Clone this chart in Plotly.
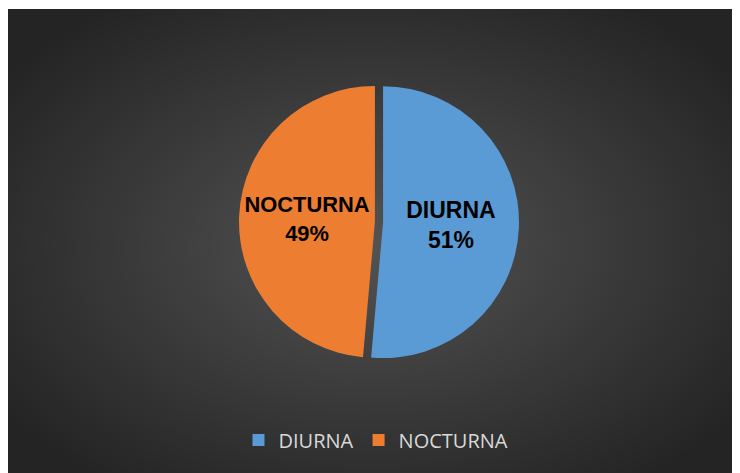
import base64
import plotly.graph_objects as go

labels = ["DIURNA", "NOCTURNA"]
values = [51.4, 48.6]
colors = ["#5b9bd5", "#ed7d31"]

W, H = 740, 473
OFF = 8  # page body margin offset

svg = '''<svg xmlns="http://www.w3.org/2000/svg" width="728" height="472" viewBox="0 0 728 472" preserveAspectRatio="none">
<defs><radialGradient id="g" cx="50%" cy="50%" r="62%" fx="50%" fy="50%">
<stop offset="0%" stop-color="#535353"/><stop offset="100%" stop-color="#242424"/>
</radialGradient></defs>
<rect x="0" y="0" width="728" height="472" fill="url(#g)"/></svg>'''
bg = "data:image/svg+xml;base64," + base64.b64encode(svg.encode()).decode()

fig = go.Figure(go.Pie(
    labels=labels, values=values, sort=False, direction="clockwise", rotation=0,
    marker=dict(colors=colors, line=dict(width=0)),
    pull=[0.03, 0.03],
    texttemplate="%{label}<br>%{percent:.0%}",
    textposition="inside", insidetextorientation="horizontal",
    textfont=dict(family="Liberation Sans", size=23, color="#000000", weight="bold"),
    hoverinfo="label+percent",
    domain=dict(x=[(239 - OFF) / W, (519 - OFF) / W], y=[1 - (362 - OFF) / H, 1 - (82 - OFF) / H]),
))

fig.update_layout(
    width=W, height=H,
    margin=dict(l=0, r=0, t=0, b=0),
    paper_bgcolor="#ffffff",
    plot_bgcolor="rgba(0,0,0,0)",
    images=[dict(source=bg, xref="paper", yref="paper", x=0, y=1 - 1 / H,
                 sizex=728 / W, sizey=472 / H, sizing="stretch",
                 xanchor="left", yanchor="top", layer="below")],
    legend=dict(orientation="h", x=(376 - OFF) / W, xanchor="center", y=1 - (440 - OFF) / H, yanchor="middle",
                font=dict(family="Open Sans", size=20, color="#d9d9d9"),
                itemwidth=30, bgcolor="rgba(0,0,0,0)"),
    showlegend=True,
)

fig.write_html("out.html")
